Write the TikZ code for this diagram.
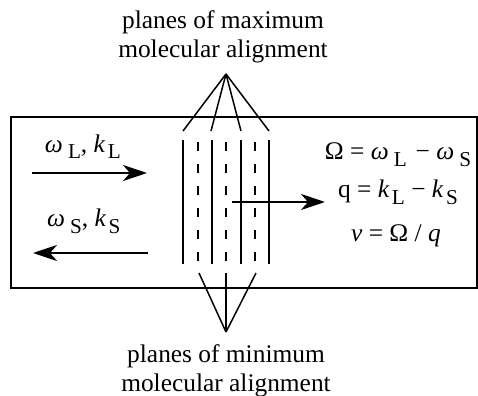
\documentclass[tikz,border=0pt]{standalone}
\usepackage{fontspec}
\setmainfont{Liberation Serif}
\usetikzlibrary{arrows.meta}
\newcommand{\lowsub}[1]{\raisebox{-0.26em}{\fontsize{10.6}{12}\selectfont #1}}
\newcommand{\gom}{\textit{ω}}
\begin{document}
\begin{tikzpicture}[x=0.5pt,y=-0.5pt,
  txt/.style={inner sep=0pt,outer sep=0pt,font=\fontsize{12.7}{15}\selectfont},
  plane/.style={line width=0.8pt},
  dplane/.style={line width=0.8pt,dash pattern=on 4.5pt off 6.5pt},
  fan/.style={line width=0.75pt},
  arr/.style={line width=1pt,-{Stealth[length=12pt,width=8pt,inset=3.5pt]}},
  frame/.style={line width=0.85pt}]
\useasboundingbox (0,0) rectangle (478,396);
% box
\draw[frame] (11,117) rectangle (477,288);
% top labels
\node[txt,anchor=base] (top1) at (223,29) {planes of maximum};
\node[txt,anchor=base] (top2) at (223,58) {molecular alignment};
% bottom labels
\node[txt,anchor=base] (bot1) at (226,362) {planes of minimum};
\node[txt,anchor=base] (bot2) at (226,391) {molecular alignment};
% planes
\foreach \x [count=\i] in {183,212,241,269}{
  \coordinate (s\i t) at (\x,140);
  \coordinate (s\i b) at (\x,264);
  \draw[plane] (s\i t) -- (s\i b);
}
\foreach \x [count=\i] in {198,226,255}{
  \coordinate (d\i t) at (\x,142);
  \coordinate (d\i b) at (\x,264);
  \draw[dplane] (d\i t) -- (d\i b);
}
% top fan
\coordinate (apexT) at (226,74);
\foreach \x [count=\i] in {183,211,241,269}{
  \coordinate (ft\i) at (\x,131);
  \draw[fan] (apexT) -- (ft\i);
}
% bottom fan
\coordinate (apexB) at (226,332);
\foreach \x [count=\i] in {199,226,256}{
  \coordinate (fb\i) at (\x,273);
  \draw[fan] (fb\i) -- (apexB);
}
% arrows
\coordinate (aLs) at (32,173);
\coordinate (aLe) at (147,173);
\draw[arr] (aLs) -- (aLe);
\coordinate (aSs) at (148,253);
\coordinate (aSe) at (33,253);
\draw[arr] (aSs) -- (aSe);
\coordinate (qs) at (232,202);
\coordinate (qe) at (325,202);
\draw[arr] (qs) -- (qe);
% left labels
\node[txt,anchor=base west] (lblL) at (45,152) {\gom\hspace{0.2em}\lowsub{L}, \textit{k}\hspace{0.1em}\lowsub{L}};
\node[txt,anchor=base west] (lblS) at (47,227) {\gom\hspace{0.2em}\lowsub{S}, \textit{k}\hspace{0.1em}\lowsub{S}};
% right equations
\node[txt,anchor=base] (eq1) at (398,160) {Ω = \gom\hspace{0.2em}\lowsub{L}\hspace{0.1em} − \gom\hspace{0.2em}\lowsub{S}};
\node[txt,anchor=base] (eq2) at (398,198) {q = \textit{k}\hspace{0.1em}\lowsub{L} − \textit{k}\hspace{0.1em}\lowsub{S}};
\node[txt,anchor=base] (eq3) at (396,242) {\textit{v} = Ω / \textit{q}};
\end{tikzpicture}
\end{document}
